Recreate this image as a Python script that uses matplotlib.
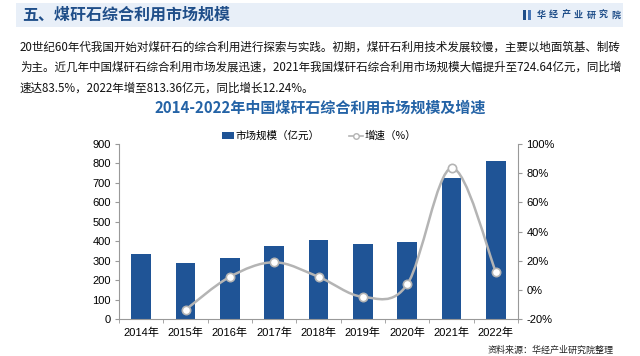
import numpy as np
import matplotlib
matplotlib.use("Agg")
import matplotlib.pyplot as plt
from matplotlib.path import Path
from matplotlib.patches import PathPatch, Rectangle

plt.rcParams['font.family'] = ['Liberation Sans', 'Noto Sans CJK SC', 'DejaVu Sans']

# 数据
years = ['2014年', '2015年', '2016年', '2017年', '2018年', '2019年', '2020年', '2021年', '2022年']
market = [336, 290, 313, 373, 405, 385, 395, 724.64, 813.36]
growth_years = ['2015年', '2016年', '2017年', '2018年', '2019年', '2020年', '2021年', '2022年']
growth = [-13.7, 8.9, 18.9, 8.9, -4.8, 3.7, 83.5, 12.24]

header = '五、煤矸石综合利用市场规模'
para = ['20世纪60年代我国开始对煤矸石的综合利用进行探索与实践。初期，煤矸石利用技术发展较慢，主要以地面筑基、制砖',
        '为主。近几年中国煤矸石综合利用市场发展迅速，2021年我国煤矸石综合利用市场规模大幅提升至724.64亿元，同比增',
        '速达83.5%，2022年增至813.36亿元，同比增长12.24%。']
chart_title = '2014-2022年中国煤矸石综合利用市场规模及增速'
source = '资料来源：华经产业研究院整理'

dark_blue = '#1f4e89'
bar_blue = '#1f5496'
grey = '#b4b4b4'
cjk = ['Noto Sans CJK SC', 'DejaVu Sans']

fig = plt.figure(figsize=(6.4, 3.56), dpi=100)
W, H = 640, 356

def fx(px):
    return px / W

def fy(py):
    return 1 - py / H

# 标题栏
fig.patches.append(Rectangle((fx(16), fy(27)), fx(607), 24 / H, transform=fig.transFigure,
                             facecolor='#e8eff8', edgecolor='none', zorder=0))
fig.text(fx(22), fy(15), header, family=cjk, fontsize=11.5, fontweight='bold',
         color=dark_blue, va='center', ha='left')
fig.patches.append(Rectangle((fx(523), fy(20)), fx(3), 10 / H, transform=fig.transFigure,
                             facecolor=dark_blue, edgecolor='none'))
fig.patches.append(Rectangle((fx(528), fy(20)), fx(3), 10 / H, transform=fig.transFigure,
                             facecolor='#4a78b8', edgecolor='none'))
for i, ch in enumerate('华经产业研究院'):
    fig.text(fx(541 + i * 12.5), fy(15), ch, family=cjk, fontsize=6.5, color=dark_blue,
             ha='center', va='center', fontweight='bold')

# 正文
for i, line in enumerate(para):
    fig.text(fx(20), fy(47 + i * 20.5), line, family=cjk, fontsize=8.3, color='#111111',
             va='center', ha='left')

fig.text(fx(320), fy(108), chart_title, family=cjk, fontsize=10.8, color='#2463a6',
         ha='center', va='center', fontweight='bold')

# 图表
ax = fig.add_axes([fx(119), fy(319), fx(518 - 119), (319 - 144) / H])
x = np.arange(len(years))
ax.bar(x, market, width=0.45, color=bar_blue, zorder=2, label='市场规模（亿元）')
ax.set_xlim(-0.5, len(years) - 0.5)
ax.set_ylim(0, 900)
ax.set_yticks(range(0, 901, 100))
ax.set_xticks(x)
ax.set_xticklabels(years)
ax.set_xticks(np.arange(-0.5, len(years), 1), minor=True)
ax.tick_params(axis='x', which='major', length=0, labelsize=8, pad=6)
ax.tick_params(axis='x', which='minor', length=3, color='#999999', direction='out')
ax.tick_params(axis='y', length=3, color='#999999', labelsize=8, pad=3)
for s in ['top', 'right']:
    ax.spines[s].set_visible(False)
for s in ['left', 'bottom']:
    ax.spines[s].set_color('#999999')
    ax.spines[s].set_linewidth(0.8)

ax2 = ax.twinx()
ax2.set_ylim(-20, 100)
ax2.set_yticks(range(-20, 101, 20))
ax2.set_yticklabels([f'{v}%' for v in range(-20, 101, 20)])
ax2.tick_params(axis='y', length=3, color='#999999', labelsize=8, pad=3)
for s in ['top', 'left', 'bottom']:
    ax2.spines[s].set_visible(False)
ax2.spines['right'].set_color('#999999')
ax2.spines['right'].set_linewidth(0.8)

# 平滑曲线 (Bezier)
gx = np.array([years.index(y) for y in growth_years], dtype=float)
gy = np.array(growth, dtype=float)
pts = np.column_stack([gx, gy])
verts = [pts[0]]
codes = [Path.MOVETO]
n = len(pts)
for i in range(n - 1):
    p0 = pts[i - 1] if i > 0 else pts[i]
    p1 = pts[i]
    p2 = pts[i + 1]
    p3 = pts[i + 2] if i + 2 < n else pts[i + 1]
    c1 = p1 + (p2 - p0) / 6
    c2 = p2 - (p3 - p1) / 6
    verts += [c1, c2, p2]
    codes += [Path.CURVE4] * 3
ax2.add_patch(PathPatch(Path(verts, codes), facecolor='none', edgecolor=grey, lw=1.8, zorder=3))
ax2.plot(gx, gy, linestyle='none', marker='o', markersize=6, markerfacecolor='white',
         markeredgecolor=grey, markeredgewidth=1.2, zorder=4)

# 图例
fig.patches.append(Rectangle((fx(222), fy(139)), fx(12), 7 / H, transform=fig.transFigure,
                             facecolor=bar_blue, edgecolor='none'))
fig.text(fx(235), fy(135.5), '市场规模（亿元）', family=cjk, fontsize=7.6, va='center', ha='left')
fig.lines.append(plt.Line2D([fx(349), fx(363)], [fy(135.5), fy(135.5)], transform=fig.transFigure,
                            color=grey, lw=1.2))
fig.lines.append(plt.Line2D([fx(356)], [fy(135.5)], transform=fig.transFigure, marker='o',
                            markersize=4, markerfacecolor='white', markeredgecolor=grey))
fig.text(fx(365), fy(135.5), '增速（%）', family=cjk, fontsize=7.6, va='center', ha='left')

fig.text(fx(488), fy(350), source, family=cjk, fontsize=6.5, ha='left', va='center', color='#222222')

fig.savefig('out.png', dpi=100)
